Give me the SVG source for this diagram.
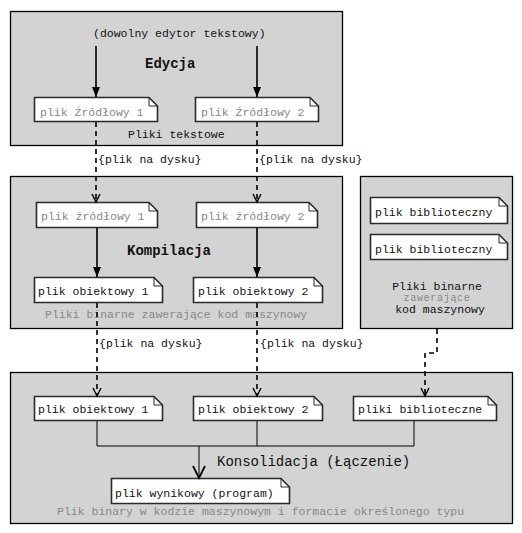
<svg xmlns="http://www.w3.org/2000/svg" width="522" height="533" viewBox="0 0 522 533">
<style>
.box{fill:#d3d3d3;stroke:#000;stroke-width:1.3}
.note{fill:#fff;stroke:#2a2a2a;stroke-width:1.6;stroke-linejoin:miter}
.fold{fill:none;stroke:#2a2a2a;stroke-width:1}
text{font-family:"Liberation Mono","Courier New",monospace;font-size:11.5px;fill:#111}
.g{fill:#888}
.h{font-size:14px;font-weight:bold}
.k{font-size:14px}
.solid{stroke:#000;stroke-width:1.6;fill:none}
.dash{stroke:#000;stroke-width:1.6;fill:none;stroke-dasharray:5 4}
.open{stroke:#000;stroke-width:1.4;fill:none}
.thin{stroke:#000;stroke-width:1;fill:none}
</style>
<defs>
<marker id="fill" markerWidth="10" markerHeight="10" refX="10" refY="4" orient="auto" markerUnits="userSpaceOnUse" viewBox="0 0 10 8">
<path d="M0,0 L10,4 L0,8 Z" fill="#000"/>
</marker>
</defs>

<g id="box-edycja">
<rect class="box" x="10.5" y="11.5" width="332" height="134"/>
<text x="93" y="37">(dowolny edytor tekstowy)</text>
<text class="h" x="145" y="68">Edycja</text>
<text x="128" y="138">Pliki tekstowe</text>
</g>
<g id="note-src1-e">
<path class="note" d="M34.5,97.5 H149 L157.5,106 V121.5 H34.5 Z"/>
<path class="fold" d="M149,97.5 V106 H157.5"/>
<text class="g" x="40" y="116">plik Źródłowy 1</text>
</g>
<g id="note-src2-e">
<path class="note" d="M195.5,97.5 H310 L318.5,106 V121.5 H195.5 Z"/>
<path class="fold" d="M310,97.5 V106 H318.5"/>
<text class="g" x="201" y="116">plik Źródłowy 2</text>
</g>

<g id="box-kompilacja">
<rect class="box" x="10.5" y="176.5" width="332" height="152"/>
<text class="h" x="127" y="255">Kompilacja</text>
<text class="g" x="45" y="318">Pliki binarne zawerające kod maszynowy</text>
</g>
<g id="note-src1-k">
<path class="note" d="M36.5,202.5 H149 L157.5,211 V227.5 H36.5 Z"/>
<path class="fold" d="M149,202.5 V211 H157.5"/>
<text class="g" x="41" y="220">plik źródłowy 1</text>
</g>
<g id="note-src2-k">
<path class="note" d="M196.5,202.5 H309 L317.5,211 V227.5 H196.5 Z"/>
<path class="fold" d="M309,202.5 V211 H317.5"/>
<text class="g" x="201" y="220">plik źródłowy 2</text>
</g>
<g id="note-obj1-k">
<path class="note" d="M34.5,277.5 H154 L162.5,286 V302.5 H34.5 Z"/>
<path class="fold" d="M154,277.5 V286 H162.5"/>
<text x="38" y="295">plik obiektowy 1</text>
</g>
<g id="note-obj2-k">
<path class="note" d="M193.5,277.5 H314 L322.5,286 V302.5 H193.5 Z"/>
<path class="fold" d="M314,277.5 V286 H322.5"/>
<text x="198" y="295">plik obiektowy 2</text>
</g>

<g id="box-biblioteki">
<rect class="box" x="360.5" y="176.5" width="152" height="152"/>
<text x="437" y="290" text-anchor="middle">Pliki binarne</text>
<text class="g" x="437" y="301" text-anchor="middle" style="font-size:10px;letter-spacing:0.7px">zawerające</text>
<text x="440" y="313" text-anchor="middle">kod maszynowy</text>
</g>
<g id="note-lib1">
<path class="note" d="M370.5,197.5 H499 L507.5,206 V223.5 H370.5 Z"/>
<path class="fold" d="M499,197.5 V206 H507.5"/>
<text x="375" y="216">plik biblioteczny</text>
</g>
<g id="note-lib2">
<path class="note" d="M370.5,234.5 H499 L507.5,243 V259.5 H370.5 Z"/>
<path class="fold" d="M499,234.5 V243 H507.5"/>
<text x="375" y="253">plik biblioteczny</text>
</g>

<g id="box-konsolidacja">
<rect class="box" x="10.5" y="372.5" width="502" height="151"/>
<text class="k" x="217" y="466">Konsolidacja (Łączenie)</text>
<text class="g" x="57" y="515">Plik binary w kodzie maszynowym i formacie określonego typu</text>
</g>
<g id="note-obj1-l">
<path class="note" d="M34.5,396.5 H154 L162.5,405 V420.5 H34.5 Z"/>
<path class="fold" d="M154,396.5 V405 H162.5"/>
<text x="38" y="413">plik obiektowy 1</text>
</g>
<g id="note-obj2-l">
<path class="note" d="M193.5,396.5 H314 L322.5,405 V420.5 H193.5 Z"/>
<path class="fold" d="M314,396.5 V405 H322.5"/>
<text x="198" y="413">plik obiektowy 2</text>
</g>
<g id="note-libs-l">
<path class="note" d="M353.5,396.5 H488 L496.5,405 V420.5 H353.5 Z"/>
<path class="fold" d="M488,396.5 V405 H496.5"/>
<text x="358" y="413">pliki biblioteczne</text>
</g>
<g id="note-wynik">
<path class="note" d="M111.5,478.5 H281 L289.5,487 V503.5 H111.5 Z"/>
<path class="fold" d="M281,478.5 V487 H289.5"/>
<text x="115" y="497">plik wynikowy (program)</text>
</g>

<g id="connectors">
<!-- editor to source -->
<line class="solid" x1="96" y1="46" x2="96" y2="97" marker-end="url(#fill)"/>
<line class="solid" x1="257" y1="46" x2="257" y2="97" marker-end="url(#fill)"/>
<!-- source to source (disk) -->
<line class="dash" x1="96" y1="122" x2="96" y2="201"/>
<path class="open" d="M92,194 L96,202 L100,194"/>
<line class="dash" x1="257" y1="122" x2="257" y2="201"/>
<path class="open" d="M253,194 L257,202 L261,194"/>
<text x="98" y="163">{plik na dysku}</text>
<text x="259" y="163">{plik na dysku}</text>
<!-- compile -->
<line class="solid" x1="97" y1="228" x2="97" y2="277" marker-end="url(#fill)"/>
<line class="solid" x1="257" y1="228" x2="257" y2="277" marker-end="url(#fill)"/>
<!-- obj to link -->
<line class="dash" x1="97" y1="303" x2="97" y2="395"/>
<path class="open" d="M93,388 L97,396 L101,388"/>
<line class="dash" x1="257" y1="303" x2="257" y2="395"/>
<path class="open" d="M253,388 L257,396 L261,388"/>
<text x="99" y="347">{plik na dysku}</text>
<text x="260" y="347">{plik na dysku}</text>
<!-- libs -->
<path class="dash" d="M437,329 V353 H425 V395"/>
<path class="open" d="M421,388 L425,396 L429,388"/>
<!-- link merge -->
<path class="thin" d="M97,421 V446 H414 V421"/>
<line class="thin" x1="257" y1="421" x2="257" y2="446"/>
<line class="thin" x1="199" y1="446" x2="199" y2="477"/>
<path class="open" d="M193,466 L199,478 L205,466" style="stroke-width:1.8"/>
</g>
</svg>
